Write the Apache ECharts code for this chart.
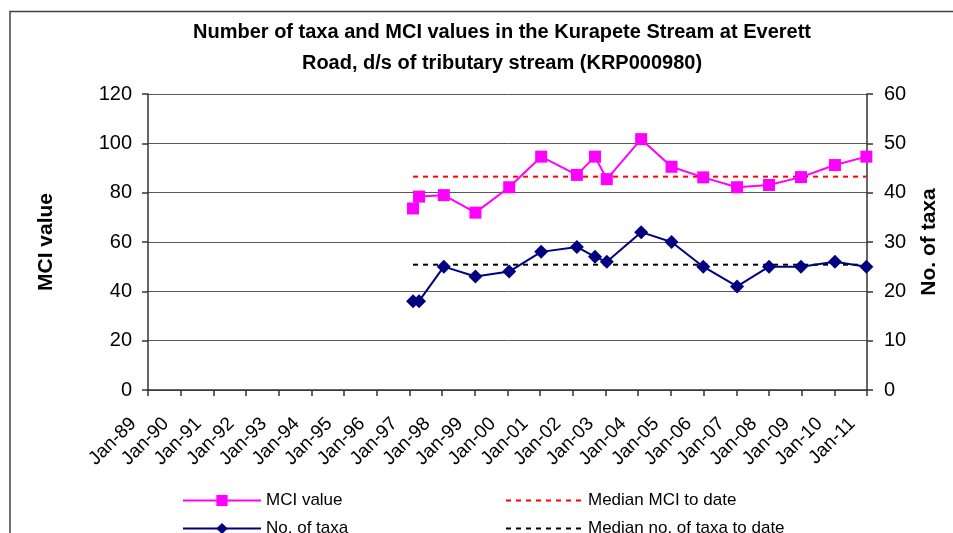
<!DOCTYPE html>
<html>
<head>
<meta charset="utf-8">
<script src="https://cdn.jsdelivr.net/npm/echarts@6/dist/echarts.min.js"></script>
<style>html,body{margin:0;padding:0;background:#fff;}#c{width:953px;height:533px;}</style>
</head>
<body>
<div id="c"></div>
<script>
// ---- data ----
var sampleDates = ['1997-02-10','1997-04-18','1998-01-20','1999-01-08','2000-01-20','2001-01-12','2002-02-15','2002-09-05','2003-01-15','2004-02-03','2005-01-08','2005-12-28','2007-01-10','2008-01-02','2008-12-25','2010-01-08','2010-12-25'];
var mciValues = [73.6, 78.4, 79.0, 71.9, 82.2, 94.6, 87.2, 94.6, 85.5, 101.7, 90.5, 86.2, 82.2, 83.1, 86.3, 91.2, 94.6];
var taxaValues = [18, 18, 25, 23, 24, 28, 29, 27, 26, 32, 30, 25, 21, 25, 25, 26, 25];
var medianMCI = 86.5;
var medianTaxa = 25.4;
var yearTicks = ['Jan-89','Jan-90','Jan-91','Jan-92','Jan-93','Jan-94','Jan-95','Jan-96','Jan-97','Jan-98','Jan-99','Jan-00','Jan-01','Jan-02','Jan-03','Jan-04','Jan-05','Jan-06','Jan-07','Jan-08','Jan-09','Jan-10','Jan-11'];
var firstYear = 1989;

function decYear(s) {
  var p = s.split('-').map(Number);
  var start = Date.UTC(p[0], 0, 1), end = Date.UTC(p[0] + 1, 0, 1);
  return p[0] + (Date.UTC(p[0], p[1] - 1, p[2]) - start) / (end - start);
}
var xs = sampleDates.map(decYear);
var mciData = xs.map(function (x, i) { return [x, mciValues[i]]; });
var taxaData = xs.map(function (x, i) { return [x, taxaValues[i]]; });
var xFirst = xs[0], xLast = xs[xs.length - 1];

var FONT = 'Liberation Sans, Arial, sans-serif';
var legendText = {fontFamily: FONT, fontSize: 17, color: '#000', lineHeight: 14};
var chart = echarts.init(document.getElementById('c'), null, {renderer: 'canvas'});
chart.setOption({
  animation: false,
  backgroundColor: '#fff',
  graphic: [{
    type: 'rect', shape: {x: 10, y: 11.5, width: 1000, height: 600},
    style: {fill: 'none', stroke: '#404040', lineWidth: 1.5}, silent: true, z: -10
  }],
  title: {
    text: 'Number of taxa and MCI values in the Kurapete Stream at Everett\nRoad, d/s of tributary stream (KRP000980)',
    left: 497, top: 12, textAlign: 'center',
    textStyle: {fontFamily: FONT, fontSize: 20, fontWeight: 'bold', color: '#000', lineHeight: 31}
  },
  grid: {left: 148, right: 86, top: 94, bottom: 143, containLabel: false},
  legend: [{
    data: ['MCI value', 'No. of taxa'], orient: 'vertical', left: 182, top: 492, height: 60, padding: 0,
    itemWidth: 78, itemHeight: 14, itemGap: 11, textStyle: legendText
  }, {
    data: [{name: 'Median MCI to date', itemStyle: {opacity: 0}}, {name: 'Median no. of taxa to date', itemStyle: {opacity: 0}}],
    orient: 'vertical', left: 505, top: 492, height: 60, padding: 0,
    itemWidth: 77, itemHeight: 14, itemGap: 11, textStyle: legendText
  }],
  xAxis: {
    type: 'value', min: firstYear, max: firstYear + yearTicks.length - 1, interval: 1,
    axisLine: {lineStyle: {color: '#333', width: 1.5}},
    axisTick: {length: 6, lineStyle: {color: '#333', width: 1.5}},
    splitLine: {show: false},
    axisLabel: {
      rotate: 45, margin: 16, padding: [0, 21, 0, 0],
      fontFamily: FONT, fontSize: 19, color: '#000',
      formatter: function (v) { return yearTicks[Math.round(v - firstYear)]; }
    }
  },
  yAxis: [{
    type: 'value', min: 0, max: 120, interval: 20, position: 'left',
    name: 'MCI value', nameLocation: 'middle', nameGap: 91, nameRotate: 90,
    nameTextStyle: {fontFamily: FONT, fontSize: 21, fontWeight: 'bold', color: '#000'},
    axisLine: {show: true, lineStyle: {color: '#333', width: 1.5}},
    axisTick: {show: true, length: 6, lineStyle: {color: '#333', width: 1.5}},
    splitLine: {show: true, lineStyle: {color: '#595959', width: 1}},
    axisLabel: {margin: 16, fontFamily: FONT, fontSize: 20, color: '#000'}
  }, {
    type: 'value', min: 0, max: 60, interval: 10, position: 'right',
    name: 'No. of taxa', nameLocation: 'middle', nameGap: 52, nameRotate: 90,
    nameTextStyle: {fontFamily: FONT, fontSize: 21, fontWeight: 'bold', color: '#000'},
    axisLine: {show: true, lineStyle: {color: '#333', width: 1.5}},
    axisTick: {show: true, length: 6, lineStyle: {color: '#333', width: 1.5}},
    splitLine: {show: false},
    axisLabel: {margin: 17, fontFamily: FONT, fontSize: 20, color: '#000'}
  }],
  series: [{
    name: 'Median MCI to date', type: 'line', yAxisIndex: 0, symbol: 'none',
    data: [[xFirst, medianMCI], [xLast, medianMCI]],
    lineStyle: {color: '#ff0000', width: 2, type: [5, 5]}, itemStyle: {color: '#ff0000'}, z: 1
  }, {
    name: 'Median no. of taxa to date', type: 'line', yAxisIndex: 1, symbol: 'none',
    data: [[xFirst, medianTaxa], [xLast, medianTaxa]],
    lineStyle: {color: '#000000', width: 2, type: [5, 5]}, itemStyle: {color: '#000000'}, z: 1
  }, {
    name: 'MCI value', type: 'line', yAxisIndex: 0, symbol: 'rect', symbolSize: 12,
    data: mciData, lineStyle: {color: '#ff00ff', width: 2}, itemStyle: {color: '#ff00ff'}, z: 3
  }, {
    name: 'No. of taxa', type: 'line', yAxisIndex: 1, symbol: 'diamond', symbolSize: 14,
    data: taxaData, lineStyle: {color: '#000080', width: 2}, itemStyle: {color: '#000080'}, z: 3
  }]
});
</script>
</body>
</html>
